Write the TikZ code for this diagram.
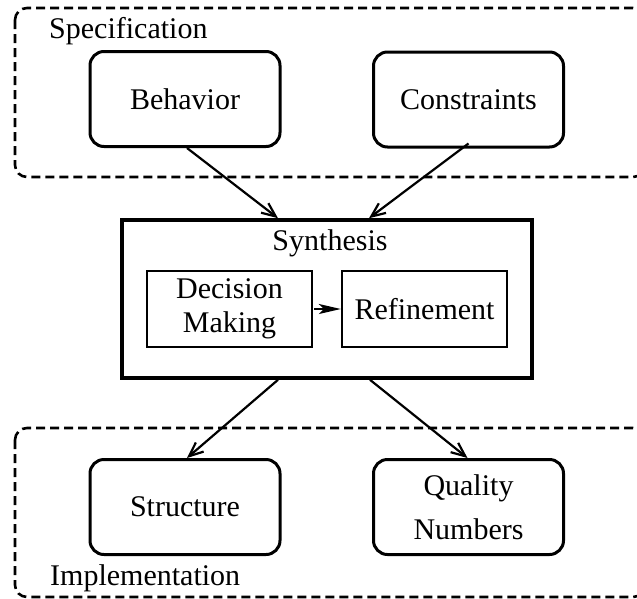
\documentclass[tikz,border=0pt]{standalone}
\usepackage{fontspec}
\setmainfont{Liberation Serif}
\usetikzlibrary{arrows.meta}
\begin{document}
\begin{tikzpicture}[x=1pt,y=-1pt,
  every node/.style={font=\fontsize{30}{34}\selectfont, inner sep=0pt},
  rbox/.style={draw, line width=3pt, rounded corners=14pt, minimum width=190pt, minimum height=95pt, align=center},
  sbox/.style={draw, line width=2.3pt, minimum width=165pt, minimum height=76pt, align=center},
  synbox/.style={draw, line width=3.6pt, minimum width=410pt, minimum height=158pt},
  group/.style={draw, line width=2.6pt, dash pattern=on 9pt off 5pt, rounded corners=12pt},
  flow/.style={line width=2.2pt, -{Straight Barb[length=14pt,width=12pt,line width=2.2pt]}},
  inner/.style={line width=2.2pt, -{Stealth[length=22pt,width=10pt,inset=5pt]}, shorten <=1pt}
]
\useasboundingbox (0,0) rectangle (637,598);
% groups
\draw[group] (15,8) rectangle (645,177);
\draw[group] (15,428) rectangle (645,597);
\node[anchor=base west] (spec) at (49,38) {Specification};
\node[anchor=base west] (impl) at (50,585) {Implementation};
% top boxes
\node[rbox] (behavior) at (185,99) {Behavior};
\node[rbox] (constraints) at (468.5,99.5) {Constraints};
% synthesis
\node[synbox] (synth) at (327,299) {};
\node (synlabel) at (330,243) {Synthesis};
\node[sbox] (decision) at (229.5,309) {Decision\\Making};
\node[sbox] (refine) at (424.5,309) {Refinement};
% bottom boxes
\node[rbox] (structure) at (185,507) {Structure};
\node[rbox, font=\fontsize{30}{44}\selectfont] (quality) at (468.5,507) {Quality\\Numbers};
% connectors
\draw[flow] ([xshift=2pt]behavior.south) -- ([xshift=-49pt]synth.north);
\draw[flow] ([yshift=5pt]constraints.south) -- ([xshift=42pt]synth.north);
\draw[flow] ([xshift=-49pt]synth.south) -- ([xshift=2pt]structure.north);
\draw[flow] ([xshift=43pt]synth.south) -- ([xshift=-1pt]quality.north);
\draw[inner] (decision.east) -- (refine.west);
\end{tikzpicture}
\end{document}
